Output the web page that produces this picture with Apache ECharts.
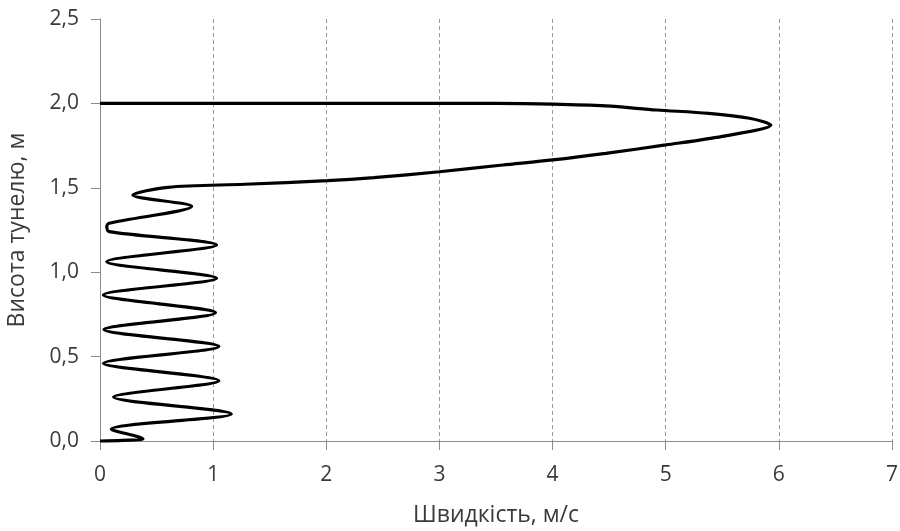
<!DOCTYPE html>
<html><head><meta charset="utf-8">
<script src="https://cdn.jsdelivr.net/npm/echarts@6/dist/echarts.min.js"></script>
<style>html,body{margin:0;padding:0;background:#fff}#c{width:900px;height:531px}</style>
</head><body><div id="c"></div>
<script>
// Velocity profile: speed (m/s) vs tunnel height (m), in drawing order bottom -> top
const speed  = [0, 0.2, 0.38, 0.10, 1.16, 0.12, 1.05, 0.03, 1.05, 0.035, 1.02, 0.03, 1.03, 0.06, 1.03, 0.08, 0.06, 0.08, 0.81, 0.29, 0.6, 1.28, 2.01, 2.42, 3.0, 3.56, 4.0, 4.47, 5.0, 5.5, 5.93, 5.74, 5.38, 4.92, 4.47, 4.0, 3.5, 0];
const height = [0, 0.004, 0.013, 0.07, 0.16, 0.26, 0.357, 0.46, 0.56, 0.66, 0.76, 0.865, 0.964, 1.062, 1.161, 1.24, 1.27, 1.29, 1.39, 1.457, 1.503, 1.521, 1.542, 1.56, 1.595, 1.635, 1.665, 1.704, 1.754, 1.805, 1.872, 1.912, 1.941, 1.961, 1.985, 1.996, 2.0, 2.0];
const xRange = [0, 7];
const yRange = [0, 2.5];
const xTitle = 'Швидкість, м/с';
const yTitle = 'Висота тунелю, м';

const FONT = 'Open Sans';
const chart = echarts.init(document.getElementById('c'), null, {renderer: 'canvas'});
chart.setOption({
  animation: false,
  backgroundColor: '#ffffff',
  grid: {left: 100, right: 8, top: 19, bottom: 90, containLabel: false, outerBoundsMode: 'none'},
  xAxis: {
    type: 'value', min: xRange[0], max: xRange[1], interval: 1,
    name: xTitle, nameLocation: 'middle', nameGap: 63,
    nameTextStyle: {fontFamily: FONT, fontSize: 23, color: '#3a3a3a'},
    axisLine: {show: true, lineStyle: {color: '#8c8c8c', width: 1}},
    axisTick: {show: true, inside: false, length: 9, lineStyle: {color: '#8c8c8c'}},
    axisLabel: {fontFamily: FONT, fontSize: 21, color: '#3a3a3a', margin: 24},
    splitLine: {show: true, lineStyle: {color: '#9a9a9a', type: [4, 3], width: 1}}
  },
  yAxis: {
    type: 'value', min: yRange[0], max: yRange[1], interval: 0.5,
    name: yTitle, nameLocation: 'middle', nameGap: 71, nameRotate: 90,
    nameTextStyle: {fontFamily: FONT, fontSize: 23, color: '#3a3a3a'},
    axisLine: {show: true, lineStyle: {color: '#8c8c8c', width: 1}},
    axisTick: {show: true, inside: false, length: 9, lineStyle: {color: '#8c8c8c'}},
    axisLabel: {fontFamily: FONT, fontSize: 21, color: '#3a3a3a', margin: 21,
      formatter: v => v.toFixed(1).replace('.', ',')},
    splitLine: {show: false}
  },
  series: [{
    type: 'line',
    data: speed.map((s, i) => [s, height[i]]),
    showSymbol: false,
    smooth: 0.3,
    lineStyle: {color: '#000000', width: 3.2},
    clip: false
  }]
});
</script>
</body></html>
